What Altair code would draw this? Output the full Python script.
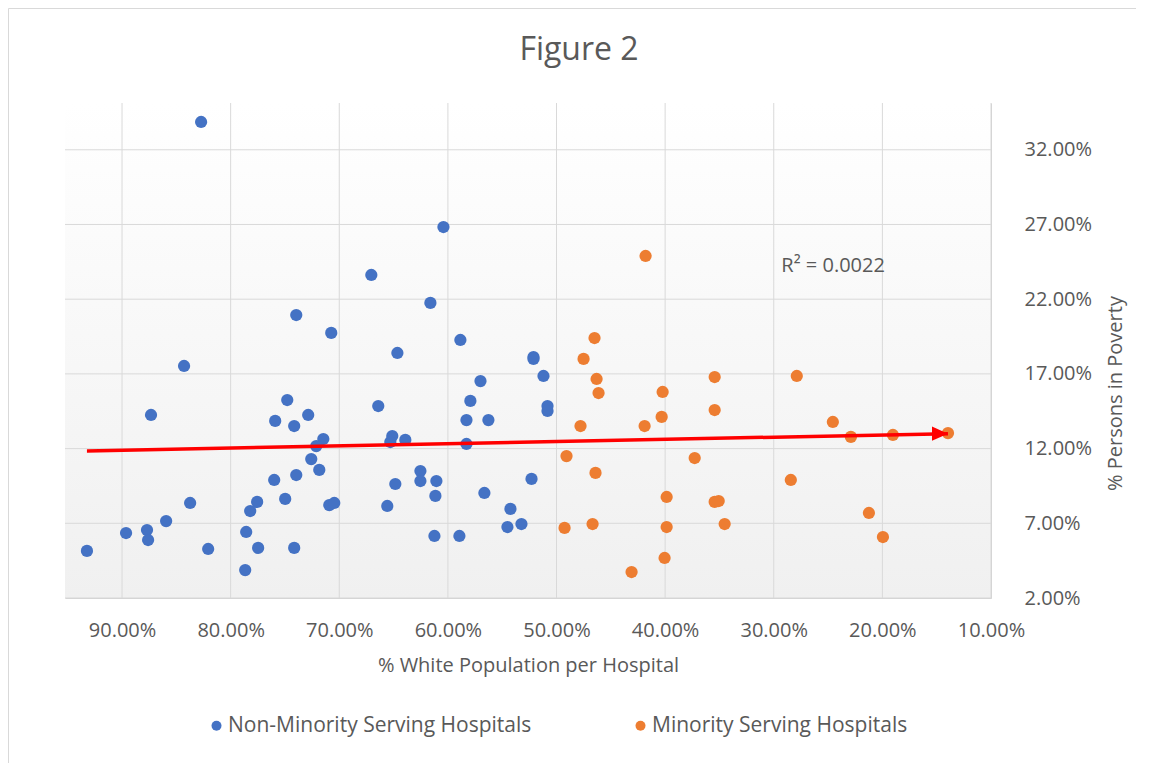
import altair as alt
import pandas as pd

# ---------------- data ----------------
series_names = ["Non-Minority Serving Hospitals", "Minority Serving Hospitals"]
series_colors = ["#4472C4", "#ED7D31"]

non_minority_x = [82.72, 60.41, 67.05, 61.61, 73.96, 70.74, 58.85, 64.65, 84.29, 52.12, 52.12,
                  51.20, 57.00, 57.93, 74.79, 87.33, 72.86, 66.41, 58.29, 56.27, 50.83, 50.83,
                  75.90, 74.15, 71.47, 72.12, 65.12, 65.30, 63.92, 58.29, 72.58, 62.53, 62.53,
                  61.06, 64.84, 73.96, 71.84, 75.99, 74.98, 77.56, 78.20, 70.92, 70.46, 61.15,
                  56.64, 52.30, 65.58, 54.24, 54.52, 53.23, 83.73, 85.94, 89.63, 87.70, 87.60,
                  93.23, 82.07, 78.57, 77.47, 74.15, 78.66, 61.24, 58.94]
non_minority_y = [33.86, 26.83, 23.62, 21.75, 20.94, 19.74, 19.27, 18.40, 17.53, 18.13, 18.00,
                  16.86, 16.52, 15.19, 15.25, 14.25, 14.25, 14.85, 13.91, 13.91, 14.85, 14.52,
                  13.85, 13.51, 12.64, 12.17, 12.84, 12.44, 12.58, 12.31, 11.30, 10.50, 9.83,
                  9.83, 9.63, 10.23, 10.57, 9.90, 8.63, 8.43, 7.82, 8.22, 8.36, 8.83,
                  9.03, 9.97, 8.16, 7.96, 6.75, 6.95, 8.36, 7.15, 6.35, 6.55, 5.88,
                  5.15, 5.28, 6.42, 5.35, 5.35, 3.87, 6.15, 6.15]

minority_x = [41.80, 46.50, 47.51, 46.31, 46.13, 35.44, 40.23, 35.44, 40.32, 47.79, 41.89,
              49.08, 46.41, 37.28, 39.86, 35.44, 35.07, 49.26, 46.68, 39.86, 34.52, 40.05,
              43.09, 27.88, 24.56, 22.90, 19.03, 13.96, 28.43, 21.24, 19.95]
minority_y = [24.89, 19.40, 18.00, 16.66, 15.72, 16.79, 15.79, 14.58, 14.12, 13.51, 13.51,
              11.50, 10.37, 11.37, 8.76, 8.43, 8.49, 6.69, 6.95, 6.75, 6.95, 4.68,
              3.74, 16.86, 13.78, 12.78, 12.91, 13.04, 9.90, 7.69, 6.08]

x_ticks = [90, 80, 70, 60, 50, 40, 30, 20, 10]
y_ticks = [2, 7, 12, 17, 22, 27, 32]
x_domain = [10, 95.25]
y_domain = [2, 35.13]

trend_x = [93.23, 13.96]
trend_y = [11.84, 13.00]

r2_label = ["R² = 0.0022"]
r2_x = [29.3]
r2_y = [24.2]

chart_title = "Figure 2"
x_title = "% White Population per Hospital"
y_title = "% Persons in Poverty"

# ---------------- tables ----------------
points_df = pd.DataFrame({
    "x": non_minority_x + minority_x,
    "y": non_minority_y + minority_y,
    "series": [series_names[0]] * len(non_minority_x) + [series_names[1]] * len(minority_x),
})
trend_df = pd.DataFrame({"x": trend_x, "y": trend_y})
arrow_df = trend_df.iloc[[-1]]
r2_df = pd.DataFrame({"x": r2_x, "y": r2_y, "t": r2_label})
xg_df = pd.DataFrame({"x": x_ticks})
yg_df = pd.DataFrame({"y": y_ticks})
one = pd.DataFrame({"a": [0]})

W, H = 926, 495
FONT = "Open Sans"
TXT = "#595959"
GRID = "#d9d9d9"
pct = "format(datum.value, '.2f') + '%'"

xscale = alt.Scale(domain=x_domain, reverse=True, nice=False, zero=False)
yscale = alt.Scale(domain=y_domain, nice=False, zero=False)

x_axis = alt.Axis(values=x_ticks, labelExpr=pct, title=x_title, grid=False, ticks=False,
                  tickSize=0, domain=True, domainColor="#d0d0d0", labelPadding=22,
                  labelFlush=False, labelOverlap=False,
                  titleY=67, titleBaseline="middle")
y_axis = alt.Axis(orient="right", values=y_ticks, labelExpr=pct, title=y_title, grid=False,
                  ticks=False, tickSize=0, domain=True, domainColor="#d0d0d0", labelPadding=33,
                  labelFlush=False, labelOverlap=False,
                  titleAngle=270, titleX=124, titleY=290, titleAlign="center",
                  titleBaseline="middle")


def X(field="x"):
    return alt.X(f"{field}:Q", scale=xscale, axis=x_axis)


def Y(field="y"):
    return alt.Y(f"{field}:Q", scale=yscale, axis=y_axis)


border = alt.Chart(one).mark_rect(filled=False, color=GRID, strokeWidth=1).encode(
    x=alt.value(-56.5), x2=alt.value(1300), y=alt.value(-94.5), y2=alt.value(1200)
)

bg = alt.Chart(one).mark_rect(
    color=alt.LinearGradient(
        gradient="linear",
        stops=[alt.GradientStop(color="#ffffff", offset=0),
               alt.GradientStop(color="#f0f0f0", offset=1)],
        x1=0, x2=0, y1=0, y2=1,
    )
).encode(x=alt.value(0), x2=alt.value(W), y=alt.value(0), y2=alt.value(H))

vgrid = alt.Chart(xg_df).mark_rule(color=GRID, strokeWidth=1).encode(x=X())
hgrid = alt.Chart(yg_df).mark_rule(color=GRID, strokeWidth=1).encode(y=Y())

points = alt.Chart(points_df).mark_circle(size=150, opacity=1).encode(
    x=X(),
    y=Y(),
    color=alt.Color("series:N", scale=alt.Scale(domain=series_names, range=series_colors),
                    legend=alt.Legend(title=None, orient="none", legendX=141, legendY=612,
                                      direction="horizontal", symbolType="circle",
                                      symbolSize=100, symbolStrokeWidth=0, labelFont=FONT,
                                      labelFontSize=21, labelColor=TXT, columnPadding=98,
                                      labelOffset=1, padding=0, labelLimit=600)),
)

trend = alt.Chart(trend_df).mark_line(color="#FF0000", strokeWidth=3.5).encode(x=X(), y=Y())
arrow = alt.Chart(arrow_df).mark_point(
    shape="M-1,-0.9L1,0L-1,0.9Z", filled=True, color="#FF0000", size=256, opacity=1, xOffset=-8
).encode(x=X(), y=Y())

r2 = alt.Chart(r2_df).mark_text(align="left", baseline="middle", font=FONT, fontSize=20,
                                color=TXT).encode(x=X(), y=Y(), text="t:N")

title = alt.Chart(one).mark_text(align="center", baseline="middle", font=FONT, fontSize=32,
                                 color=TXT).encode(
    x=alt.value(514), y=alt.value(-53), text=alt.value(chart_title)
)

chart = alt.layer(border, bg, vgrid, hgrid, points, trend, arrow, r2, title).properties(
    width=W, height=H,
    autosize=alt.AutoSizeParams(type="none"),
    padding={"left": 57, "top": 95, "right": 145, "bottom": 165},
    background="white",
).configure_view(stroke=None).configure_axis(
    labelFont=FONT, labelFontSize=20, labelColor=TXT,
    titleFont=FONT, titleFontSize=20, titleColor=TXT, titleFontWeight="normal",
)

chart.save("out.html", embed_options={"renderer": "svg", "actions": False})
